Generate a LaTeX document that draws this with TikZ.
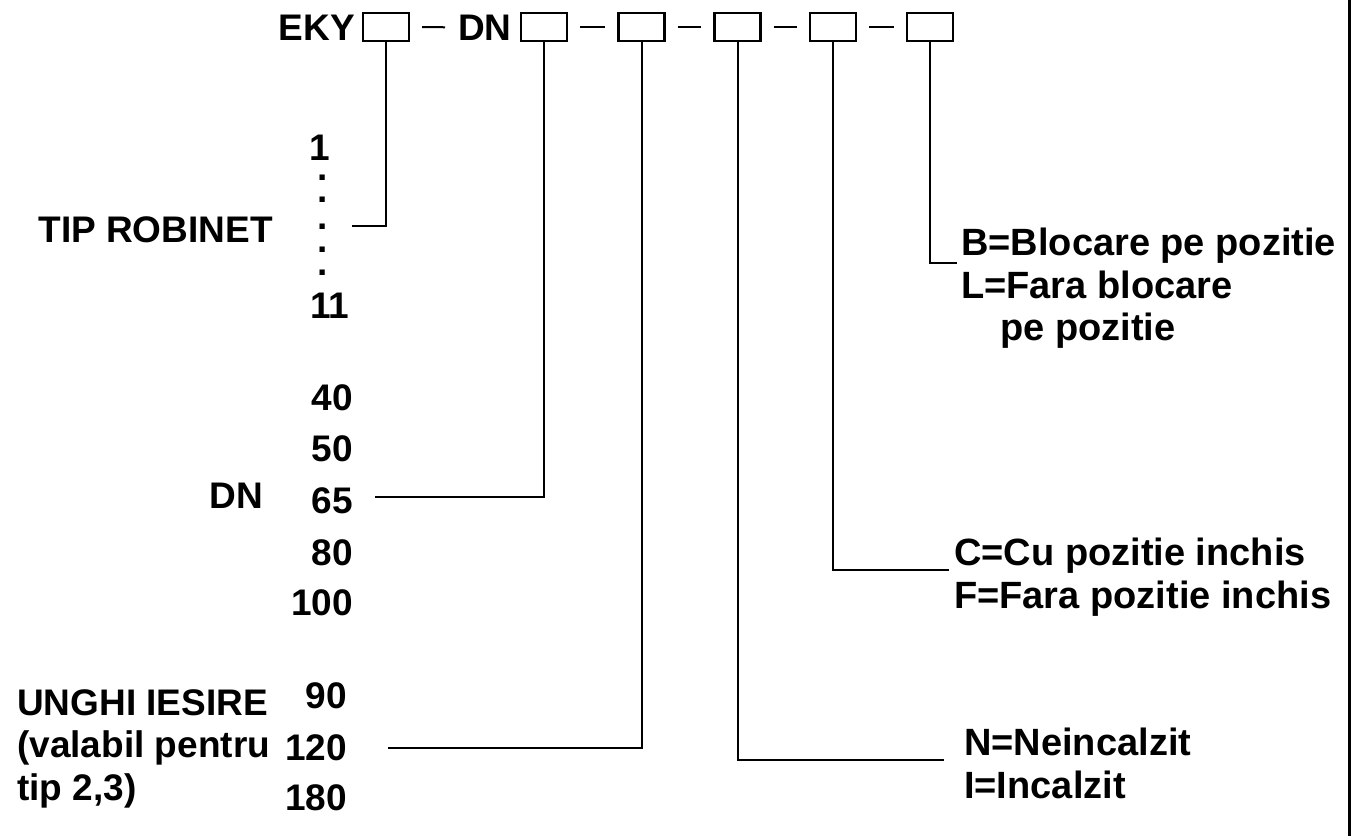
\documentclass[tikz,border=0pt]{standalone}
\usepackage{fontspec}
\setmainfont{Liberation Sans}
\tikzstyle{codebox} = [rectangle, draw, line width=2.2, minimum width=46, minimum height=28, inner sep=0]
\tikzstyle{line} = [draw, line width=2]
\tikzstyle{txt} = [inner sep=0, font=\fontsize{37}{43}\selectfont\bfseries]
\tikzstyle{opt} = [txt, anchor=base west, font=\fontsize{38}{43}\selectfont\bfseries]

\begin{document}
\begin{tikzpicture}[x=1pt, y=-1pt]
\useasboundingbox (0,0) rectangle (1356,836);
% code line
\node[txt, anchor=base east] (eky) at (355,40) {EKY};
\node[codebox] (c1) at (386,27) {};
\node[txt, anchor=base west] (dn) at (458,40) {DN};
\node[codebox] (c2) at (544,27) {};
\node[codebox] (c3) at (641.5,27) {};
\node[codebox] (c4) at (737.5,27) {};
\node[codebox] (c5) at (833,27) {};
\node[codebox] (c6) at (930,27) {};
\path [line] ([xshift=12]c1.east) -- ([xshift=-13]dn.west);
\foreach \a/\b in {c2/c3,c3/c4,c4/c5,c5/c6}
  \path [line] ([xshift=12]\a.east) -- ([xshift=-12]\b.west);
% tip robinet
\node[txt, anchor=base] (one) at (320,160) {1};
\foreach \y [count=\i] in {178,200,227,250,273}
  \node[txt] (dot\i) at (323,\y) {.};
\node[txt, anchor=base] (eleven) at (330,318) {11};
\node[txt, anchor=base east] (tip) at (273,242) {TIP ROBINET};
% DN
\foreach \v/\y in {40/410,50/461,65/513,80/565,100/615}
  \node[txt, anchor=base east] (dn\v) at (353,\y) {\v};
\node[txt, anchor=base east] (dnlbl) at (263,508) {DN};
% unghi iesire
\foreach \v/\y in {90/708,120/760,180/810}
  \node[txt, anchor=base east] (u\v) at (347,\y) {\v};
\node[txt, anchor=base west] (ung1) at (17,715) {UNGHI IESIRE};
\node[txt, anchor=base west] (ung2) at (17,757) {(valabil pentru};
\node[txt, anchor=base west] (ung3) at (17,800) {tip 2,3)};
% right side options
\node[opt] (blk1) at (961,255) {B=Blocare pe pozitie};
\node[opt] (blk2) at (961,298) {L=Fara blocare};
\node[opt] (blk3) at (1000,340) {pe pozitie};
\node[opt] (poz1) at (954,565) {C=Cu pozitie inchis};
\node[opt] (poz2) at (954,608) {F=Fara pozitie inchis};
\node[opt] (inc1) at (964,755) {N=Neincalzit};
\node[opt] (inc2) at (964,798) {I=Incalzit};
% connectors
\coordinate (tipend) at (352,226);
\coordinate (dnend) at (375,497);
\coordinate (ungend) at (388,748);
\coordinate (incend) at (944,760);
\coordinate (pozend) at (949,570);
\coordinate (blkend) at (957,263);
\path [line] (c1) |- (tipend);
\path [line] (c2) |- (dnend);
\path [line] (c3) |- (ungend);
\path [line] (c4) |- (incend);
\path [line] (c5) |- (pozend);
\path [line] (c6) |- (blkend);
\draw[line width=3] (1349,0) -- (1349,836);
\end{tikzpicture}
\end{document}
